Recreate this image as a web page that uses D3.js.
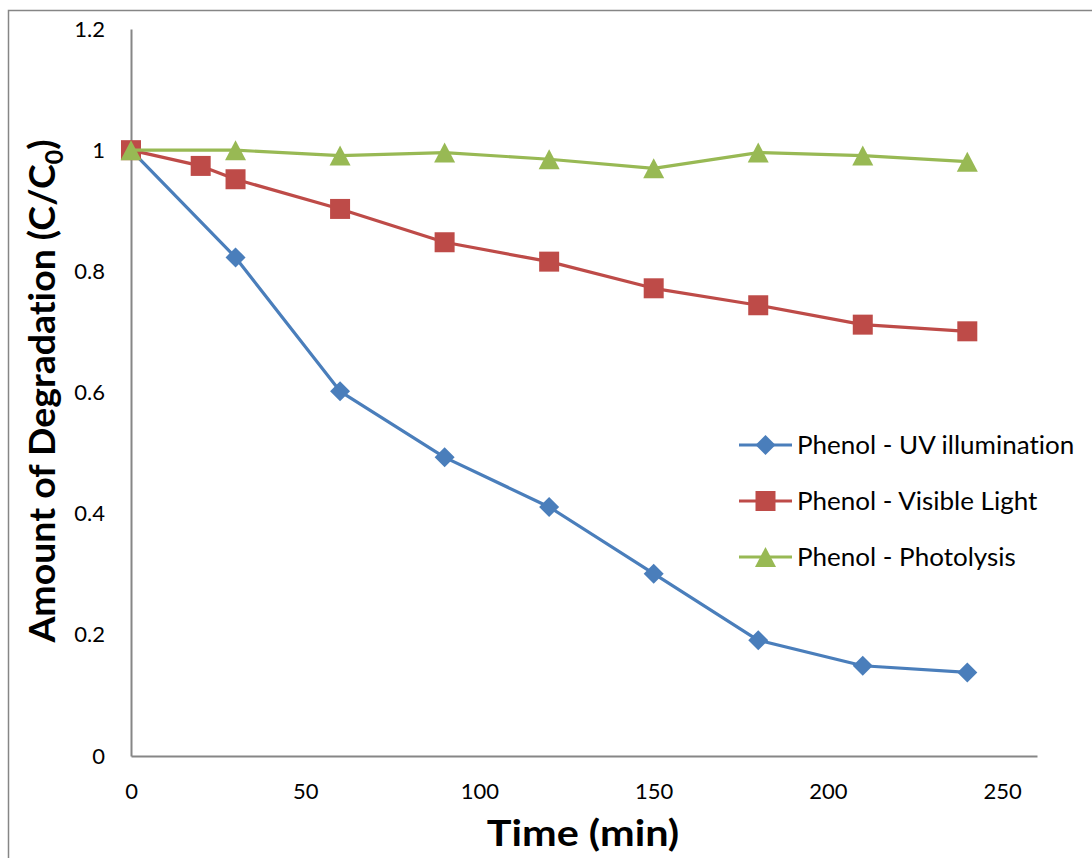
<!DOCTYPE html>
<html>
<head>
<meta charset="utf-8">
<script src="https://cdn.jsdelivr.net/npm/d3@7"></script>
<style>
  html, body { margin: 0; padding: 0; background: #fff; }
  svg { display: block; }
  text { font-family: Lato, "Open Sans", sans-serif; fill: #000; font-variant-ligatures: none; }
</style>
</head>
<body>
<svg id="chart" width="1092" height="858"></svg>
<script>
// Sampling times (min) and normalised concentration C/C0 for each run
const timesUV = [0, 30, 60, 90, 120, 150, 180, 210, 240];
const uvValues = [1.0, 0.823, 0.602, 0.493, 0.411, 0.301, 0.191, 0.149, 0.138];

const timesVisible = [0, 20, 30, 60, 90, 120, 150, 180, 210, 240];
const visibleValues = [1.0, 0.974, 0.952, 0.903, 0.848, 0.816, 0.772, 0.744, 0.712, 0.701];

const timesPhoto = [0, 30, 60, 90, 120, 150, 180, 210, 240];
const photoValues = [1.0, 1.0, 0.991, 0.996, 0.985, 0.970, 0.996, 0.991, 0.981];

const seriesNames = ["Phenol - UV illumination", "Phenol - Visible Light", "Phenol - Photolysis"];
const xTicks = [0, 50, 100, 150, 200, 250];
const yTicks = [0, 0.2, 0.4, 0.6, 0.8, 1, 1.2];

const series = [
  { name: seriesNames[0], t: timesUV, v: uvValues, color: "#4A7EBB", shape: "diamond" },
  { name: seriesNames[1], t: timesVisible, v: visibleValues, color: "#BE4B48", shape: "square" },
  { name: seriesNames[2], t: timesPhoto, v: photoValues, color: "#98B954", shape: "triangle" }
];

const svg = d3.select("#chart");

// outer chart frame (extends beyond the visible page on the right and bottom)
svg.append("rect")
  .attr("x", 8.5).attr("y", 10.5)
  .attr("width", 1200).attr("height", 1000)
  .attr("fill", "none").attr("stroke", "#868686").attr("stroke-width", 1.5);

const x = d3.scaleLinear().domain([0, 260]).range([131, 1037]);
const y = d3.scaleLinear().domain([0, 1.2]).range([756, 29]);

// axes: plain lines, no tick marks
const axisColor = "#868686";
const tickFont = "22px";
const yAxis = d3.axisLeft(y).tickValues(yTicks).tickSize(0).tickPadding(26)
  .tickFormat(d => d3.format("")(+d.toFixed(1)));
const gy = svg.append("g").attr("transform", `translate(${x(0)},0)`).call(yAxis);
gy.select(".domain").attr("stroke", axisColor).attr("stroke-width", 2);
gy.selectAll("text").style("font-family", "Lato, 'Open Sans', sans-serif").style("font-size", tickFont).attr("fill", "#000");

const xAxis = d3.axisBottom(x).tickValues(xTicks).tickSize(0).tickPadding(27);
const gx = svg.append("g").attr("transform", `translate(0,${y(0)})`).call(xAxis);
gx.select(".domain").attr("stroke", axisColor).attr("stroke-width", 2);
gx.selectAll("text").style("font-family", "Lato, 'Open Sans', sans-serif").style("font-size", tickFont).attr("fill", "#000");

// marker shapes, 20px across
function markerPath(shape) {
  if (shape === "diamond") return d3.symbol().type(d3.symbolSquare).size(200)();
  if (shape === "square") return d3.symbol().type(d3.symbolSquare).size(400)();
  const p = d3.path();
  p.moveTo(0, -10); p.lineTo(10.5, 10); p.lineTo(-10.5, 10); p.closePath();
  return p.toString();
}
function markerTransform(shape, px, py) {
  if (shape === "diamond") return `translate(${px},${py}) rotate(45)`;
  return `translate(${px},${py})`;
}

const line = d3.line().x(d => x(d[0])).y(d => y(d[1]));

// draw series back to front: UV, Visible, Photolysis
series.forEach(s => {
  const pts = s.t.map((t, i) => [t, s.v[i]]);
  const g = svg.append("g");
  g.append("path").datum(pts).attr("d", line)
    .attr("fill", "none").attr("stroke", s.color).attr("stroke-width", 3.2)
    .attr("stroke-linejoin", "round");
  g.selectAll("path.m").data(pts).enter().append("path").attr("class", "m")
    .attr("d", markerPath(s.shape))
    .attr("transform", d => markerTransform(s.shape, x(d[0]), y(d[1])))
    .attr("fill", s.color);
});

// legend
const legend = svg.append("g");
series.forEach((s, i) => {
  const ly = 445 + i * 56;
  legend.append("line").attr("x1", 739).attr("x2", 792).attr("y1", ly).attr("y2", ly)
    .attr("stroke", s.color).attr("stroke-width", 3.2);
  legend.append("path").attr("d", markerPath(s.shape))
    .attr("transform", markerTransform(s.shape, 765.5, ly)).attr("fill", s.color);
  legend.append("text").attr("x", 797).attr("y", ly).attr("dy", "0.36em")
    .style("font-size", "25px")
    .attr("transform", `translate(797,0) scale(1.04,1) translate(-797,0)`)
    .text(s.name);
});

// axis titles
svg.append("text")
  .attr("transform", "translate(583,846) scale(1.15,1)")
  .attr("text-anchor", "middle").style("font-size", "36px").style("font-weight", "bold")
  .text("Time (min)");

const yt = svg.append("text")
  .attr("transform", "translate(55,391) rotate(-90) scale(1.04,1)")
  .attr("text-anchor", "middle").style("font-size", "36px").style("font-weight", "bold");
yt.append("tspan").text("Amount of Degradation (C/C");
yt.append("tspan").attr("dy", 8).style("font-size", "24px").text("0");
yt.append("tspan").attr("dy", -8).text(")");
</script>
</body>
</html>
